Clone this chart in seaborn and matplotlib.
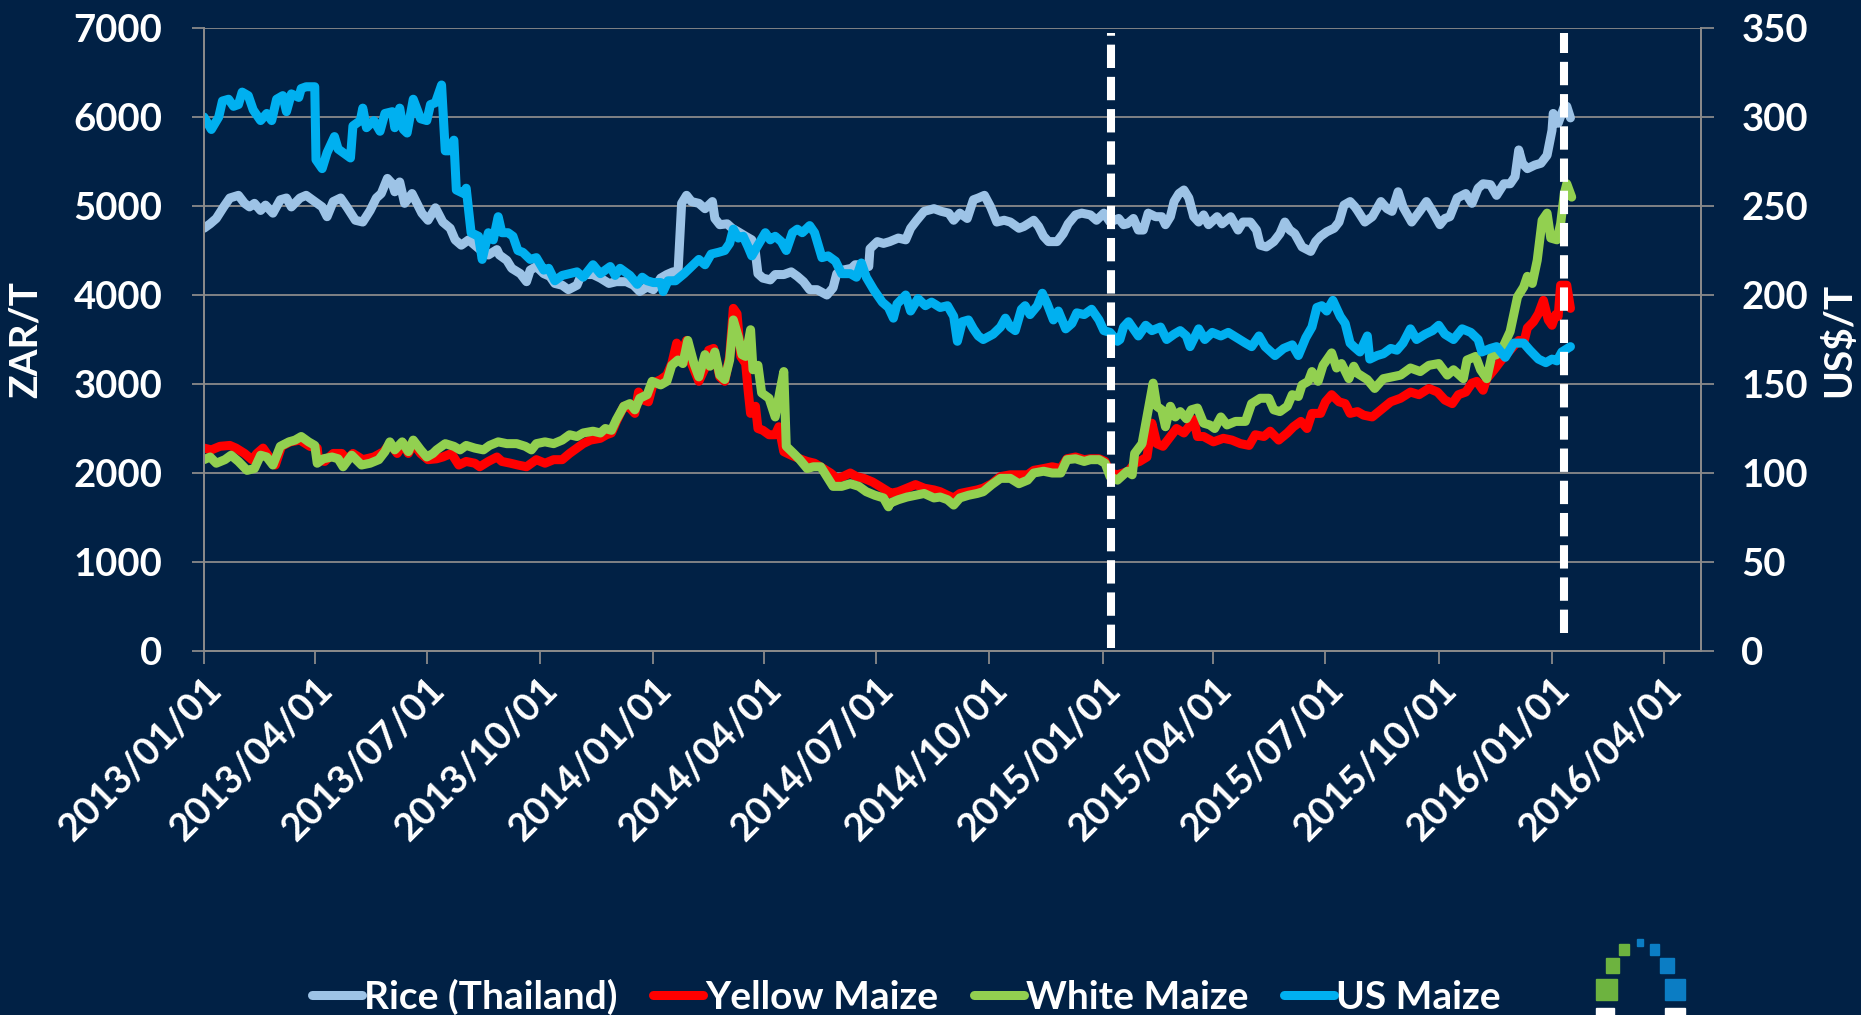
import pandas as pd
import matplotlib
matplotlib.use("Agg")
import matplotlib.pyplot as plt
import matplotlib.dates as mdates
from matplotlib.patches import Rectangle
import seaborn as sns

# days counted from 2013/01/01
start = pd.Timestamp("2013-01-01")

rice_day = [0, 5, 10, 16, 21, 28, 33, 37, 41, 46, 50, 56, 62, 67, 71, 78, 83, 90, 96, 100,
            105, 111, 116, 123, 129, 135, 140, 144, 149, 153, 155, 159, 163, 169, 173, 177, 182,
            188, 194, 200, 204, 209, 215, 220, 226, 231, 238, 240, 246, 250, 257, 262, 265, 270, 276, 281, 285,
            291, 296, 303, 306, 311, 316, 322, 329, 335, 343, 349, 354, 360, 365,
            371, 376, 381, 385, 388, 392, 396, 402, 407, 413, 415, 419, 425, 429, 434, 440, 445, 448, 450, 454,
            460, 464, 471, 477, 482, 487, 492, 498, 506, 511, 514, 519, 526, 529, 534, 540, 541, 547, 552,
            557, 564, 570, 574, 579, 585, 593, 599, 605, 609, 614, 620, 625, 629, 634, 639, 644, 650, 655, 662,
            666, 674, 678, 682, 686, 693, 698, 702, 708, 713, 720, 725, 731, 736, 743, 747,
            750, 755, 759, 763, 767, 773, 778, 781, 785, 788, 792, 796, 800, 804, 808, 812, 816, 823, 827, 834,
            840, 844, 850, 855, 858, 863, 869, 874, 878, 882, 886, 892, 899, 903, 907, 912, 918, 922, 926, 931, 935,
            937, 943, 949, 956, 961, 965, 970, 974, 981, 988, 993, 998, 1004, 1008, 1012, 1018, 1025, 1030, 1035, 1039,
            1045, 1050, 1056, 1061, 1065, 1068, 1071, 1075, 1081, 1086, 1091, 1095, 1096, 1100, 1105, 1107, 1110]
rice_zar = [4750, 4800, 4860, 4990, 5090, 5120, 5030, 4990, 5030, 4950, 5010, 4920, 5070, 5090, 4990, 5090, 5120, 5050, 4990, 4880,
            5050, 5090, 4990, 4840, 4820, 4950, 5090, 5140, 5310, 5250, 5160, 5270, 5030, 5140, 5030, 4920, 4840,
            4980, 4820, 4750, 4620, 4560, 4620, 4560, 4490, 4450, 4510, 4450, 4390, 4300, 4240, 4150, 4280, 4320, 4240, 4210, 4130,
            4110, 4060, 4110, 4210, 4230, 4230, 4190, 4130, 4150, 4150, 4110, 4040, 4090, 4060,
            4190, 4230, 4260, 4240, 5030, 5120, 5050, 5030, 4970, 5050, 4860, 4790, 4800, 4750, 4710, 4660, 4620, 4470, 4240, 4190,
            4170, 4230, 4230, 4260, 4210, 4150, 4060, 4060, 4000, 4080, 4240, 4280, 4300, 4340, 4340, 4320, 4520, 4600, 4580,
            4600, 4640, 4620, 4750, 4840, 4940, 4970, 4940, 4920, 4840, 4920, 4860, 5070, 5090, 5120, 4990, 4820, 4840, 4820, 4750,
            4770, 4840, 4770, 4660, 4600, 4600, 4690, 4800, 4900, 4920, 4900, 4840, 4920, 4820, 4860, 4790,
            4800, 4860, 4730, 4730, 4920, 4880, 4880, 4790, 4880, 5050, 5140, 5180, 5090, 4880, 4820, 4900, 4790, 4880, 4800, 4880,
            4730, 4820, 4820, 4730, 4560, 4540, 4600, 4690, 4820, 4730, 4690, 4540, 4490, 4600, 4660, 4710, 4750, 4820, 5010, 5050, 4990,
            4950, 4820, 4880, 5050, 4970, 4940, 5160, 4990, 4820, 4950, 5050, 4940, 4790, 4860, 4880, 5090, 5140, 5030, 5200, 5250,
            5240, 5120, 5250, 5250, 5330, 5630, 5480, 5420, 5460, 5480, 5570, 5850, 6040, 5930, 6120, 6120, 5990]

yellow_day = [0, 6, 13, 21, 26, 33, 39, 43, 48, 54, 58, 63, 70, 78, 86, 92, 93, 98, 105, 112,
              116, 121, 129, 138, 146, 151, 157, 162, 166, 170, 176, 182,
              189, 194, 201, 207, 213, 220, 224, 231, 238, 242, 249, 255, 262, 270, 277, 284, 291, 297, 303, 308,
              314, 322, 327, 331, 335, 341, 346, 350, 353, 357, 361, 365,
              371, 376, 380, 384, 387, 392, 396, 402, 407, 410, 414, 419, 423, 427, 430, 433, 436, 440, 442, 444,
              448, 450, 454, 459, 464, 467, 471, 477, 484, 490, 496, 503, 509, 514, 519, 525, 530, 536, 543, 549, 556,
              557, 564, 571, 578, 585, 593, 598, 604, 609, 614, 621, 628, 633, 640, 647, 655, 662, 669, 674, 682,
              689, 696, 701, 708, 715, 720, 727, 732, 736, 742,
              751, 756, 760, 766, 770, 774, 779, 785, 790, 796, 800, 804, 807, 812, 820, 828, 835, 842, 849, 854,
              861, 866, 873, 880, 885, 891, 896, 900, 907, 911, 916, 922, 927, 931,
              937, 942, 949, 956, 964, 972, 980, 987, 995, 1002, 1008, 1014, 1019, 1025, 1030, 1034, 1039, 1042, 1048, 1054,
              1061, 1068, 1072, 1075, 1080, 1084, 1088, 1092, 1095, 1098, 1100, 1102, 1107, 1110]
yellow_zar = [2280, 2260, 2300, 2310, 2280, 2220, 2150, 2220, 2280, 2160, 2090, 2300, 2350, 2370, 2300, 2280, 2150, 2130, 2220, 2220,
              2150, 2220, 2150, 2180, 2240, 2330, 2220, 2330, 2220, 2330, 2220, 2150,
              2160, 2180, 2220, 2090, 2130, 2110, 2070, 2130, 2180, 2130, 2110, 2090, 2070, 2150, 2110, 2150, 2150, 2220, 2280, 2330,
              2370, 2390, 2430, 2450, 2580, 2750, 2730, 2670, 2910, 2820, 2800, 3010,
              3050, 3100, 3230, 3460, 3310, 3490, 3230, 3030, 3180, 3380, 3400, 3080, 3030, 3310, 3850, 3790, 3310, 3230, 2930, 2670,
              2750, 2500, 2480, 2430, 2430, 2520, 2240, 2200, 2160, 2130, 2110, 2050, 2000, 1940, 1960, 2000, 1960, 1940, 1900, 1850, 1790,
              1770, 1790, 1830, 1870, 1830, 1810, 1790, 1750, 1720, 1770, 1790, 1810, 1830, 1880, 1960, 1980, 1980, 1980, 2030, 2050,
              2070, 2050, 2160, 2180, 2150, 2160, 2160, 2130, 2000, 1980,
              2020, 2110, 2130, 2180, 2560, 2330, 2300, 2410, 2500, 2450, 2520, 2600, 2410, 2410, 2350, 2390, 2370, 2330, 2310, 2430,
              2410, 2470, 2370, 2450, 2520, 2580, 2500, 2670, 2670, 2800, 2880, 2800, 2780, 2670,
              2690, 2650, 2630, 2710, 2800, 2840, 2910, 2880, 2950, 2910, 2820, 2780, 2880, 2910, 3010, 3030, 2930, 3060, 3160, 3270,
              3380, 3490, 3460, 3630, 3700, 3790, 3940, 3720, 3660, 3780, 3760, 4110, 4110, 3850]

white_day = [0, 5, 10, 17, 22, 28, 35, 41, 46, 51, 56, 62, 69, 74, 79, 85, 90, 92, 97, 104,
             109, 113, 120, 128, 135, 142, 147, 151, 155, 161, 166, 170, 176, 181, 186,
             189, 196, 203, 208, 213, 220, 227, 232, 239, 246, 254, 261, 266, 270, 277, 284, 291, 297, 303, 308,
             316, 322, 326, 331, 335, 341, 346, 350, 354, 360, 364,
             371, 376, 380, 385, 389, 393, 398, 402, 407, 411, 415, 419, 423, 427, 430, 434, 437, 440, 444, 446,
             450, 453, 459, 464, 468, 471, 473, 479, 484, 490, 495, 501, 506, 511, 518, 525, 532, 538, 545, 552, 556,
             557, 564, 571, 578, 585, 593, 598, 604, 609, 614, 621, 628, 633, 640, 647, 655, 662, 669, 674, 682,
             689, 696, 701, 708, 715, 720, 727, 732, 736, 742,
             750, 754, 756, 762, 766, 771, 774, 778, 781, 785, 789, 793, 798, 802, 807, 812, 817, 821, 826, 831,
             838, 846, 851, 858, 865, 869, 874, 880, 884, 889, 892, 897, 900, 905, 909, 916, 920, 924, 930, 934,
             937, 945, 951, 958, 965, 972, 980, 988, 995, 1003, 1010, 1015, 1023, 1026, 1033, 1037, 1042, 1046, 1050, 1056,
             1061, 1067, 1072, 1075, 1079, 1083, 1087, 1091, 1094, 1099, 1102, 1105, 1107, 1111]
white_zar = [2150, 2180, 2110, 2150, 2200, 2130, 2030, 2050, 2200, 2180, 2090, 2300, 2350, 2370, 2410, 2350, 2310, 2110, 2160, 2180,
             2160, 2070, 2200, 2090, 2110, 2150, 2240, 2350, 2260, 2350, 2240, 2370, 2260, 2180, 2220,
             2260, 2330, 2300, 2260, 2310, 2280, 2260, 2310, 2350, 2330, 2330, 2300, 2260, 2330, 2350, 2330, 2370, 2430, 2410, 2450,
             2470, 2450, 2500, 2480, 2600, 2750, 2780, 2710, 2840, 2880, 3030,
             2990, 3030, 3210, 3270, 3230, 3490, 3230, 3080, 3330, 3200, 3360, 3100, 3050, 3270, 3720, 3530, 3330, 3310, 3610, 3160,
             3210, 2900, 2840, 2630, 2930, 3140, 2300, 2220, 2150, 2050, 2070, 2070, 1960, 1850, 1850, 1880, 1850, 1790, 1750, 1720, 1620,
             1660, 1700, 1730, 1750, 1770, 1720, 1730, 1700, 1640, 1720, 1750, 1770, 1790, 1870, 1940, 1940, 1880, 1920, 2000, 2020,
             2000, 2000, 2150, 2160, 2130, 2150, 2150, 2110, 1960, 1920,
             2020, 1980, 2220, 2330, 2630, 3010, 2750, 2710, 2520, 2750, 2630, 2690, 2610, 2710, 2730, 2560, 2540, 2500, 2630, 2540,
             2580, 2580, 2780, 2840, 2840, 2710, 2690, 2750, 2880, 2860, 2990, 3030, 3140, 3030, 3210, 3350, 3180, 3230, 3060, 3200,
             3120, 3050, 2950, 3060, 3080, 3100, 3180, 3140, 3210, 3230, 3100, 3160, 3060, 3270, 3310, 3160, 3060, 3310, 3330, 3440,
             3590, 3980, 4090, 4210, 4130, 4390, 4840, 4920, 4640, 4620, 4800, 5140, 5250, 5100]

us_day = [0, 6, 12, 15, 20, 24, 28, 31, 36, 40, 46, 51, 55, 59, 64, 67, 71, 77, 79, 83,
          90, 91, 96, 100, 106, 109, 115, 119, 121, 127, 129, 132, 138, 143, 147, 153, 155, 159, 162, 165,
          170, 176, 181, 184,
          188, 193, 196, 199, 203, 205, 211, 213, 217, 223, 226, 231, 235, 239, 242, 247, 251, 255, 259, 265,
          270, 276, 280, 285, 291, 297, 303, 308, 316, 322, 330, 334, 338, 346, 352, 356, 360, 365,
          371, 373, 377, 383, 390, 396, 402, 407, 412, 418, 423, 427, 430, 434, 438, 442, 445, 450, 456, 460,
          464, 469, 473, 478, 482, 486, 492, 496, 502, 507, 513, 518, 525, 530, 534, 538, 544, 551, 556,
          560, 563, 570, 574, 580, 586, 591, 598, 604, 609, 612, 616, 621, 625, 629, 633, 641, 647, 651, 655,
          659, 664, 667, 671, 677, 681, 685, 690, 694, 700, 705, 709, 715, 721, 727, 731, 736, 742,
          744, 747, 751, 756, 759, 765, 770, 777, 782, 788, 793, 798, 801, 808, 813, 819, 826, 832, 839, 846,
          851, 857, 862, 870, 877, 884, 889, 895, 900, 904, 908, 912, 917, 923, 927, 931,
          934, 939, 945, 947, 953, 958, 964, 969, 974, 980, 985, 992, 998, 1003, 1008, 1015, 1022, 1029, 1035, 1038,
          1045, 1050, 1057, 1064, 1072, 1077, 1084, 1090, 1095, 1099, 1103, 1110]
us_usd = [300, 293, 300, 309, 310, 306, 307, 314, 312, 304, 298, 302, 298, 310, 312, 303, 313, 311, 316, 317,
          317, 276, 271, 280, 289, 282, 279, 277, 295, 298, 305, 294, 298, 292, 302, 303, 294, 305, 293, 291,
          310, 299, 298, 307,
          308, 318, 281, 281, 287, 259, 257, 260, 235, 233, 220, 235, 231, 244, 235, 235, 233, 225, 224, 220,
          221, 214, 215, 208, 211, 212, 213, 210, 217, 212, 216, 211, 215, 211, 206, 210, 208, 207,
          207, 202, 208, 208, 212, 216, 220, 217, 223, 224, 225, 229, 237, 232, 233, 227, 222, 228, 235, 231,
          233, 230, 225, 235, 237, 235, 239, 235, 221, 222, 219, 212, 212, 210, 218, 210, 203, 196, 193,
          187, 195, 200, 191, 198, 194, 196, 193, 194, 188, 174, 185, 186, 181, 177, 175, 178, 182, 187, 182,
          180, 192, 194, 189, 194, 201, 195, 186, 191, 181, 184, 190, 189, 192, 186, 180, 179, 174,
          175, 182, 185, 180, 177, 183, 180, 182, 175, 178, 180, 177, 171, 181, 175, 179, 177, 179, 176, 173,
          171, 177, 171, 166, 170, 172, 166, 176, 182, 193, 194, 191, 197, 188, 184, 173,
          171, 168, 177, 164, 166, 167, 170, 169, 173, 181, 175, 178, 180, 183, 178, 175, 181, 179, 175, 168,
          170, 171, 165, 173, 173, 169, 164, 162, 164, 163, 168, 171]

tick_dates = pd.date_range("2013-01-01", "2016-04-01", freq="QS")
event_dates = ["2015-01-08", "2016-01-11"]


def frame(days, vals):
    return pd.DataFrame({"Date": start + pd.to_timedelta(days, unit="D"), "Price": vals})


bg = "#012145"
grid_c = "#8a8a8a"
sns.set_theme(style="dark")
plt.rcParams["font.family"] = ["Lato", "DejaVu Sans"]
plt.rcParams["font.weight"] = "bold"

fig = plt.figure(figsize=(18.61, 10.15), dpi=100, facecolor=bg)
ax = fig.add_axes([0.1096, 0.3586, 0.8044, 0.6138])
ax.set_facecolor(bg)
ax2 = ax.twinx()

lw = 6.5
sns.lineplot(data=frame(rice_day, rice_zar), x="Date", y="Price", ax=ax, color="#9DC3E6",
             linewidth=lw, estimator=None, sort=False, legend=False)
sns.lineplot(data=frame(yellow_day, yellow_zar), x="Date", y="Price", ax=ax, color="#FF0000",
             linewidth=lw, estimator=None, sort=False, legend=False)
sns.lineplot(data=frame(white_day, white_zar), x="Date", y="Price", ax=ax, color="#92D050",
             linewidth=lw, estimator=None, sort=False, legend=False)
sns.lineplot(data=frame(us_day, us_usd), x="Date", y="Price", ax=ax2, color="#00B0F0",
             linewidth=lw, estimator=None, sort=False, legend=False)
for ln in ax.lines + ax2.lines:
    ln.set_linewidth(lw)
    ln.set_solid_joinstyle("round")

# vertical dashed markers
for d, y0 in zip(event_dates, [0.005, 0.029]):
    ax2.axvline(pd.Timestamp(d), ymin=y0, ymax=0.992, color="white", lw=5.8,
                linestyle=(0, (2.9, 1.1)))

ax.set_xlim(pd.Timestamp("2013-01-01"), pd.Timestamp("2016-05-01"))
ax.set_ylim(0, 7000)
ax2.set_ylim(0, 350)
ax.set_yticks(range(0, 7001, 1000))
ax2.set_yticks(range(0, 351, 50))
ax.set_xticks(tick_dates)
ax.xaxis.set_major_formatter(mdates.DateFormatter("%Y/%m/%d"))

ax.yaxis.grid(True, color=grid_c, lw=1.3)
ax.xaxis.grid(False)
ax2.grid(False)

for a in (ax, ax2):
    for s in a.spines.values():
        s.set_color(grid_c)
        s.set_linewidth(1.3)
    a.spines["top"].set_visible(False)

fs = 27.5
ax.tick_params(axis="y", length=9, width=1.3, color=grid_c, labelcolor="white",
               labelsize=fs, pad=21, left=True)
ax2.tick_params(axis="y", length=9, width=1.3, color=grid_c, labelcolor="white",
                labelsize=fs, pad=20, right=True)
ax.tick_params(axis="x", length=9, width=1.3, color=grid_c, labelcolor="white",
               labelsize=fs, pad=6, bottom=True)
plt.setp(ax.get_xticklabels(), rotation=45, ha="right", rotation_mode="anchor",
         fontweight="bold")
plt.setp(ax.get_yticklabels(), fontweight="bold")
plt.setp(ax2.get_yticklabels(), fontweight="bold")

ax.set_xlabel(None)
ax.set_ylabel("ZAR/T", color="white", fontsize=28, fontweight="bold")
ax.yaxis.set_label_coords(-0.108, 0.5)
ax2.set_ylabel("US\\$/T", color="white", fontsize=28, fontweight="bold")
ax2.yaxis.set_label_coords(1.08, 0.5)

handles = [ax.lines[0], ax.lines[1], ax.lines[2], ax2.lines[0]]
labels = ["Rice (Thailand)", "Yellow Maize", "White Maize", "US Maize"]
leg = fig.legend(handles, labels, loc="center", bbox_to_anchor=(0.487, 0.018), ncol=4,
                 frameon=False, handlelength=1.3, handletextpad=0.05,
                 columnspacing=0.9, prop={"size": 28, "weight": "bold"})
for t in leg.get_texts():
    t.set_color("white")

# logo squares in the bottom right corner
W, H = 1861, 1015
logo = [(1596, 979, 21, 21, "#6DB33F"), (1665, 979, 20, 21, "#0B7DC4"),
        (1606, 958, 13, 15, "#6DB33F"), (1660, 958, 14, 15, "#0B7DC4"),
        (1619, 944, 10, 11, "#6DB33F"), (1650, 944, 9, 11, "#0B7DC4"),
        (1637, 939, 6, 7, "#0B7DC4"),
        (1596, 1008, 18, 8, "white"), (1665, 1008, 20, 8, "white")]
for x, y, w, h, c in logo:
    fig.add_artist(Rectangle((x / W, 1 - (y + h) / H), w / W, h / H, color=c,
                             transform=fig.transFigure))

fig.savefig("out.png", dpi=100, facecolor=bg)
